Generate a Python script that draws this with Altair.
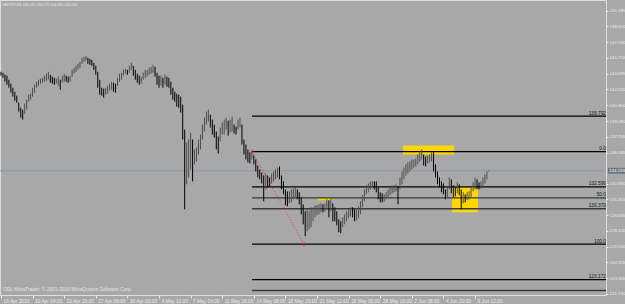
import altair as alt
import pandas as pd

# ---- data (GBPJPY H4) ----
highs = [144.30,144.20,144.00,143.90,143.49,143.09,142.68,142.27,141.87,141.16,
         140.65,140.45,141.06,141.46,141.97,142.07,142.68,142.98,143.29,143.49,
         143.59,143.69,143.90,144.10,144.30,144.00,143.80,143.69,143.59,143.80,
         143.49,143.90,144.10,143.90,143.80,143.90,144.50,144.71,144.91,145.11,
         145.32,145.72,145.82,145.92,145.72,145.62,145.52,145.21,144.91,144.30,
         143.49,142.68,142.58,142.68,142.88,143.09,143.29,143.19,143.09,143.69,
         144.10,144.20,144.50,144.61,144.50,144.91,145.21,144.91,144.50,144.10,
         143.90,143.80,144.20,144.50,144.50,144.71,144.81,145.01,144.81,144.20,
         143.90,143.90,143.69,144.00,143.80,143.69,143.29,142.68,142.27,142.07,
         141.97,141.77,140.96,138.42,137.11,137.41,138.12,137.41,136.40,136.60,
         137.41,137.92,138.93,139.64,140.25,140.45,139.94,139.44,138.93,138.22,
         137.71,138.63,139.13,139.44,139.64,139.33,139.44,139.74,138.93,138.73,
         139.44,139.64,138.93,137.41,136.90,136.40,136.09,136.19,135.79,135.38,
         134.77,134.37,134.06,133.76,133.96,133.76,133.56,133.96,134.17,134.37,
         134.57,134.67,133.76,133.15,132.34,132.14,132.14,132.34,132.44,132.54,
         132.34,132.04,131.53,130.82,130.11,130.31,130.11,130.52,130.52,130.72,
         130.72,130.82,130.92,130.82,130.92,131.33,131.23,131.43,130.92,130.52,
         130.11,129.30,129.10,129.50,129.81,130.11,130.31,130.52,130.52,130.31,
         130.21,130.62,131.13,131.73,132.34,132.75,132.95,133.15,133.15,133.15,
         133.15,132.54,132.04,131.94,131.83,132.04,132.34,132.54,132.75,132.75,
         132.85,132.65,133.56,134.17,134.57,134.88,135.08,135.18,135.38,135.38,
         135.48,135.89,136.19,136.40,135.89,135.69,135.79,135.89,136.09,136.19,
         134.88,134.17,133.56,133.15,132.95,132.34,132.65,133.56,133.36,132.75,
         132.54,133.05,132.85,132.34,132.04,131.83,132.04,132.14,132.54,133.05,
         133.56,133.36,133.05,133.15,133.56,133.86,134.17,134.272]
lows = [143.90,143.69,143.29,142.98,142.68,142.17,141.77,141.36,141.16,140.25,
        139.64,139.44,140.04,140.45,141.26,141.46,141.77,142.17,142.68,142.88,
        143.09,143.19,143.29,143.39,143.49,143.19,143.09,142.98,143.09,142.88,
        142.48,143.19,143.29,143.29,143.19,143.29,143.80,144.10,144.30,144.50,
        144.71,145.11,145.32,145.42,145.11,145.01,144.91,144.50,144.00,142.68,
        141.97,141.87,141.67,141.97,142.07,142.38,142.48,142.27,142.17,142.88,
        143.29,143.49,143.90,144.10,144.00,144.20,144.50,143.90,143.49,143.19,
        142.98,143.09,143.49,143.69,143.80,144.00,144.10,144.20,143.80,142.98,
        142.68,142.88,142.68,142.98,142.78,142.68,141.97,141.46,141.26,140.75,
        140.65,140.15,137.41,130.31,132.85,133.56,134.37,133.15,134.88,135.18,
        135.89,136.40,137.41,138.22,138.93,139.23,138.63,137.92,137.61,136.40,
        135.99,137.21,137.92,137.92,138.42,137.81,138.12,138.22,138.02,137.92,
        138.42,138.63,136.90,135.89,135.38,135.08,134.98,135.38,134.88,134.17,
        133.56,133.36,132.95,131.13,132.34,132.54,132.65,132.95,133.15,133.36,
        133.56,133.36,132.34,131.83,130.72,130.62,130.92,131.02,131.33,131.53,
        131.33,130.82,129.81,128.79,127.58,128.08,128.29,128.49,129.10,129.50,
        129.71,129.81,130.01,130.01,130.11,130.31,129.50,130.11,129.10,129.10,
        128.69,127.98,127.88,128.49,128.79,129.10,129.40,129.60,129.50,129.10,
        129.20,129.40,129.81,130.52,131.13,131.83,132.04,132.34,132.54,132.34,
        132.04,131.33,131.02,131.02,131.13,131.33,131.53,131.73,131.94,132.04,
        132.14,130.82,132.34,132.85,133.36,133.76,133.96,134.17,134.37,134.57,
        134.67,134.88,135.18,135.38,134.77,134.67,134.98,135.08,135.18,134.17,
        133.56,132.85,132.54,132.04,131.83,131.33,131.53,132.34,131.94,131.53,
        131.63,131.94,131.73,130.31,130.92,131.02,131.23,131.33,131.53,132.14,
        132.34,132.34,132.34,132.44,132.65,132.95,133.36,134.165]

time_labels = ["16 Apr 2010", "20 Apr 04:00", "22 Apr 20:00", "27 Apr 08:00",
               "30 Apr 00:00", "4 May 12:00", "7 May 04:00", "11 May 16:00",
               "14 May 08:00", "18 May 20:00", "21 May 12:00", "26 May 00:00",
               "28 May 16:00", "2 Jun 08:00", "4 Jun 20:00", "9 Jun 12:00"]
bars_per_label = 16

price_ticks = [150.485, 148.910, 147.290, 145.715, 144.095, 142.520, 140.900,
               139.280, 137.705, 136.085, 132.890, 131.315, 129.695, 128.120,
               126.500, 124.925, 123.305, 121.730]

fib_levels = [139.79, 136.19, 132.59, 131.48, 130.37, 126.77, 123.17, 122.06]
fib_texts = ["139.792", "0.0", "132.596", "50.0", "130.370", "100.0", "123.172", ""]
fib_colors = ["#000000", "#000000", "#000000", "#3a3a3a", "#3a3a3a", "#000000", "#000000", "#3a3a3a"]
fib_start_bar = 127.1
fib_trend = {"bar": [127.1, 153.4], "price": [136.19, 126.77]}

zones_x1 = [203.5, 228.4, 160.5]
zones_x2 = [229.4, 241.5, 167.6]
zones_top = [136.80, 132.54, 131.43]
zones_bottom = [135.89, 130.01, 131.23]

current_price = 134.233
header = "GBPJPY,H4  134.215 134.272 134.165 134.233"
footer = "ODL MetaTrader, \u00a9 2001-2010 MetaQuotes Software Corp."

# ---- build tables ----
X_MIN, X_MAX = -0.5, 306.3
Y_MIN, Y_MAX = 121.60, 151.60
FONT = "Liberation Sans"
BG = "#a8a8a8"
FG = "#ececec"

rows = []
prev_mid = None
for i, (h, l) in enumerate(zip(highs, lows)):
    mid = (h + l) / 2
    up = prev_mid is not None and mid >= prev_mid
    rows.append({"bar": i, "high": h, "low": l, "dir": "up" if up else "down"})
    prev_mid = mid
bars = pd.DataFrame(rows)

fibs = pd.DataFrame({"level": fib_levels, "text": fib_texts, "col": fib_colors,
                     "x1": [fib_start_bar] * len(fib_levels), "x2": [X_MAX] * len(fib_levels)})
zones = pd.DataFrame({"x1": zones_x1, "x2": zones_x2, "top": zones_top, "bottom": zones_bottom})
trend = pd.DataFrame(fib_trend)

xscale = alt.Scale(domain=[X_MIN, X_MAX], nice=False, zero=False)
yscale = alt.Scale(domain=[Y_MIN, Y_MAX], nice=False, zero=False)

label_js = "[" + ",".join("'%s'" % s for s in time_labels) + "]"
x_axis = alt.Axis(orient="bottom", values=[k * bars_per_label for k in range(len(time_labels))],
                  labelExpr=label_js + "[round(datum.value/%d)]" % bars_per_label,
                  labelAlign="left", labelBaseline="top", labelPadding=0, labelOffset=2,
                  tickSize=3, tickColor=FG, domain=False, grid=False, title=None,
                  labelColor=FG, labelFont=FONT, labelFontSize=4.8, labelOverlap=False,
                  labelFlush=False)
y_axis = alt.Axis(orient="right", values=price_ticks, format=".3f", tickSize=2,
                  tickColor=FG, domain=False, grid=False, title=None, labelColor=FG,
                  labelFont=FONT, labelFontSize=4.4, labelPadding=1, labelOverlap=False,
                  labelFlush=False)


def X(field):
    return alt.X(field, scale=xscale, axis=x_axis)


def Y(field):
    return alt.Y(field, scale=yscale, axis=y_axis)


zone_layer = alt.Chart(zones).mark_rect(color="#ffd700").encode(
    x=X("x1:Q"), x2="x2:Q", y=Y("top:Q"), y2="bottom:Q")

cur_line = alt.Chart(pd.DataFrame({"p": [current_price]})).mark_rule(
    color="#8796a8", strokeWidth=0.8).encode(y=Y("p:Q"))

fib_layer = alt.Chart(fibs).mark_rule(strokeWidth=1.3).encode(
    x=X("x1:Q"), x2="x2:Q", y=Y("level:Q"),
    color=alt.Color("col:N", scale=None, legend=None))

bar_layer = alt.Chart(bars).mark_rule(strokeWidth=1).encode(
    x=X("bar:Q"), y=Y("low:Q"), y2="high:Q",
    color=alt.Color("dir:N", scale=alt.Scale(domain=["up", "down"], range=["#4e4e4e", "#000000"]),
                    legend=None))

trend_layer = alt.Chart(trend).mark_line(color="#ff2020", strokeDash=[1, 2], strokeWidth=1).encode(
    x=X("bar:Q"), y=Y("price:Q"))

trend_pts = alt.Chart(trend).mark_point(color="#ff2020", size=6, shape="square", filled=False,
                                        strokeWidth=0.7).encode(x=X("bar:Q"), y=Y("price:Q"))

fib_text = alt.Chart(fibs).mark_text(align="right", baseline="bottom", dy=-0.5, fontSize=4.8,
                                     font=FONT, color="#151515").encode(
    x=X("x2:Q"), y=Y("level:Q"), text="text:N")

price_box = alt.Chart(pd.DataFrame({"p": [current_price]})).transform_calculate(
    top="datum.p + 0.3", bot="datum.p - 0.3").mark_rect(
    color="#6e7682", clip=False).encode(
    x=alt.value(608), x2=alt.value(625), y=Y("top:Q"), y2="bot:Q")

price_label = alt.Chart(pd.DataFrame({"p": [current_price]})).mark_text(
    align="left", baseline="middle", fontSize=4.4, font=FONT, color="#ffffff", clip=False).encode(
    x=alt.value(609), y=Y("p:Q"), text=alt.Text("p:Q", format=".3f"))

head_text = alt.Chart(pd.DataFrame({"t": [header]})).mark_text(
    align="left", baseline="middle", fontSize=3.6, font=FONT, color=FG).encode(
    x=alt.value(2), y=alt.value(5), text="t:N")

foot_text = alt.Chart(pd.DataFrame({"t": [footer]})).mark_text(
    align="left", baseline="middle", fontSize=4.9, font=FONT, color="#e4e4e4").encode(
    x=alt.value(3), y=alt.value(290), text="t:N")

chart = alt.layer(zone_layer, cur_line, fib_layer, bar_layer, trend_layer, trend_pts,
                  fib_text, price_box, price_label, head_text, foot_text).properties(
    width=606, height=295,
    autosize=alt.AutoSizeParams(type="none"),
    padding={"left": 0, "top": 0, "right": 19, "bottom": 9},
    background=BG,
).configure_view(stroke="#dedede", strokeWidth=1)

chart.save("out.html", embed_options={"renderer": "svg", "actions": False})
